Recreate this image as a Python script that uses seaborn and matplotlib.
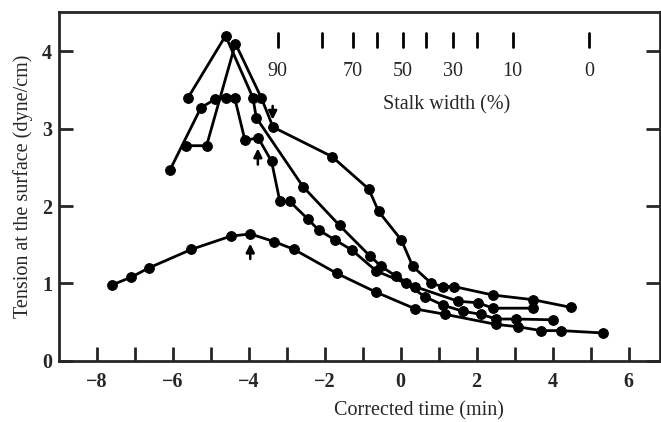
import matplotlib
matplotlib.use("Agg")
import matplotlib.pyplot as plt
import numpy as np
import pandas as pd
import seaborn as sns

# curve 1: the low one (peak ~1.6)
low_x = [-7.6, -7.1, -6.63, -5.51, -4.48, -3.96, -3.33, -2.81, -1.68, -0.66, 0.39, 1.18, 2.52, 3.09, 3.7, 4.23, 5.32]
low_y = [0.98, 1.08, 1.20, 1.44, 1.61, 1.64, 1.54, 1.44, 1.13, 0.89, 0.67, 0.60, 0.47, 0.44, 0.39, 0.39, 0.36]

# curve with the 4.2 peak
peak_x = [-5.61, -4.61, -3.89, -3.80, -2.57, -1.61, -0.82, -0.51, -0.11, 0.37, 1.51, 2.04, 2.43, 3.48]
peak_y = [3.39, 4.20, 3.40, 3.14, 2.25, 1.75, 1.36, 1.22, 1.09, 0.96, 0.77, 0.75, 0.68, 0.68]

# curve with the 3.4 plateau
flat_x = [-6.08, -5.26, -4.89, -4.61, -4.37, -4.10, -3.75, -3.40, -3.18, -2.92, -2.44, -2.16, -1.72, -1.28, -0.64, 0.15, 0.63, 1.11, 1.64, 2.12, 2.52, 3.04, 4.01]
flat_y = [2.46, 3.27, 3.38, 3.40, 3.40, 2.85, 2.88, 2.58, 2.06, 2.06, 1.83, 1.69, 1.56, 1.43, 1.16, 1.00, 0.83, 0.72, 0.64, 0.60, 0.54, 0.54, 0.53]

# curve with the 4.1 peak
late_x = [-5.64, -5.11, -4.35, -3.67, -3.36, -1.81, -0.84, -0.58, 0.02, 0.32, 0.81, 1.11, 1.40, 2.43, 3.48, 4.49]
late_y = [2.78, 2.78, 4.10, 3.40, 3.02, 2.64, 2.22, 1.93, 1.56, 1.22, 1.00, 0.96, 0.96, 0.85, 0.79, 0.69]

# stalk width scale along the top
stalk_pct = [90, 80, 70, 60, 50, 40, 30, 20, 10, 0]
stalk_x = [-3.24, -2.08, -1.26, -0.63, 0.05, 0.68, 1.37, 2.00, 2.95, 4.97]
stalk_labels = ["90", "", "70", "", "50", "", "30", "", "10", "0"]

# arrows: (x, tail y, head y)
arrows_x = [-3.37, -3.76, -3.96]
arrows_tail = [3.33, 2.50, 1.28]
arrows_head = [3.08, 2.78, 1.55]

curves = [(low_x, low_y), (peak_x, peak_y), (flat_x, flat_y), (late_x, late_y)]
frames = []
for i, (xs, ys) in enumerate(curves):
    frames.append(pd.DataFrame({"t": xs, "tension": ys, "curve": i}))
df = pd.concat(frames, ignore_index=True)

sns.set_style("ticks")
plt.rcParams["font.family"] = ["Liberation Serif", "DejaVu Serif"]

fig = plt.figure(figsize=(6.61, 4.22), dpi=100)
ax = fig.add_axes([0.089, 0.145, 0.909, 0.827])

sns.lineplot(data=df, x="t", y="tension", hue="curve", units="curve",
             estimator=None, sort=False, palette=["black"] * 4, legend=False,
             linewidth=2.0, marker="o", markersize=7, markeredgecolor="black",
             ax=ax)

for xa, yt, yh in zip(arrows_x, arrows_tail, arrows_head):
    ax.annotate("", xy=(xa, yh), xytext=(xa, yt),
                arrowprops=dict(arrowstyle="-|>,head_width=0.25,head_length=0.5",
                                color="black", lw=1.8))

for xs, lab in zip(stalk_x, stalk_labels):
    ax.plot([xs, xs], [4.06, 4.24], color="black", lw=2.0)
    if lab:
        ax.text(xs, 3.74, lab, ha="center", va="center", fontsize=14.5)
ax.text(1.2, 3.31, "Stalk width (%)", ha="center", va="center", fontsize=14.5)

ax.set_xlim(-9.0, 6.82)
ax.set_ylim(0, 4.51)
ax.set_xticks(np.arange(-8, 7, 2))
ax.set_xticks(np.arange(-8, 7, 1), minor=True)
ax.set_yticks([0, 1, 2, 3, 4])
ax.tick_params(axis="both", which="both", direction="in", length=10, width=2.0,
               labelsize=14.5)
ax.tick_params(axis="y", right=True, pad=5)
ax.tick_params(axis="x", pad=8)
ax.set_xticklabels([f"\u2212{abs(v)}" if v < 0 else str(v) for v in range(-8, 7, 2)],
                   fontweight="bold")
ax.set_yticklabels([str(v) for v in range(5)], fontweight="bold")
for side in ax.spines.values():
    side.set_linewidth(2.0)

ax.set_xlabel("Corrected time (min)", fontsize=14.5, labelpad=8)
ax.xaxis.set_label_coords(0.60, -0.115)
ax.set_ylabel("Tension at the surface (dyne/cm)", fontsize=14.5, labelpad=6)

fig.savefig("out.png", dpi=100)
plt.close(fig)
